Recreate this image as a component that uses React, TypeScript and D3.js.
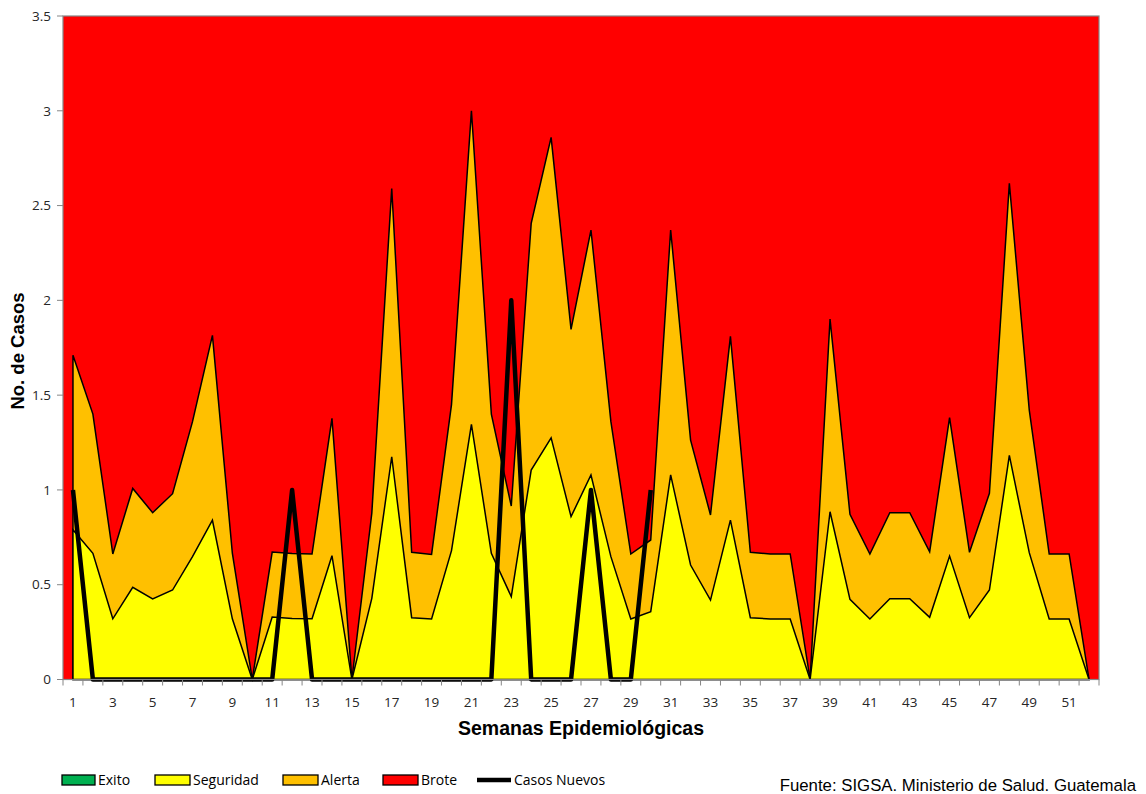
import React from "react";
import * as d3 from "d3";

const weeks: number[] = Array.from({ length: 52 }, (_, i) => i + 1);

const exito: number[] = [
  0, 0, 0, 0, 0, 0, 0, 0, 0, 0, 0, 0, 0, 0, 0, 0, 0, 0, 0, 0, 0, 0, 0, 0, 0, 0,
  0, 0, 0, 0, 0, 0, 0, 0, 0, 0, 0, 0, 0, 0, 0, 0, 0, 0, 0, 0, 0, 0, 0, 0, 0, 0,
];

const seguridad: number[] = [
  0.79, 0.666, 0.32, 0.486, 0.425, 0.472, 0.648, 0.84, 0.32, 0, 0.33, 0.322, 0.32,
  0.653, 0, 0.428, 1.175, 0.326, 0.319, 0.68, 1.346, 0.666, 0.437, 1.105, 1.275,
  0.859, 1.079, 0.648, 0.319, 0.358, 1.079, 0.604, 0.419, 0.841, 0.326, 0.319,
  0.319, 0, 0.885, 0.423, 0.319, 0.426, 0.426, 0.328, 0.651, 0.326, 0.472, 1.182,
  0.669, 0.319, 0.319, 0,
];

const alerta: number[] = [
  1.71, 1.4, 0.662, 1.008, 0.88, 0.98, 1.36, 1.815, 0.667, 0, 0.672, 0.665, 0.662,
  1.378, 0, 0.877, 2.59, 0.671, 0.66, 1.45, 3.0, 1.4, 0.915, 2.406, 2.86, 1.847,
  2.371, 1.36, 0.662, 0.736, 2.371, 1.263, 0.868, 1.81, 0.671, 0.662, 0.662, 0,
  1.901, 0.871, 0.662, 0.88, 0.88, 0.674, 1.381, 0.671, 0.982, 2.617, 1.421,
  0.662, 0.662, 0,
];

const casosNuevos: number[] = [
  1, 0, 0, 0, 0, 0, 0, 0, 0, 0, 0, 1, 0, 0, 0, 0, 0, 0, 0, 0, 0, 0, 2, 0, 0, 0,
  1, 0, 0, 1,
];

const yTicks: number[] = [0, 0.5, 1, 1.5, 2, 2.5, 3, 3.5];
const xTickLabels: number[] = [1, 3, 5, 7, 9, 11, 13, 15, 17, 19, 21, 23, 25, 27, 29, 31, 33, 35, 37, 39, 41, 43, 45, 47, 49, 51];

const legendItems = [
  { label: "Exito", color: "#00b050", type: "box", x: 62, w: 33 },
  { label: "Seguridad", color: "#ffff00", type: "box", x: 155, w: 35 },
  { label: "Alerta", color: "#ffc000", type: "box", x: 283, w: 35 },
  { label: "Brote", color: "#ff0000", type: "box", x: 383, w: 35 },
  { label: "Casos Nuevos", color: "#000", type: "line", x: 477, w: 34 },
];

export default function App() {
  const W = 1146;
  const H = 794;
  const left = 63;
  const right = 1099;
  const top = 16;
  const bottom = 679.5;

  const band = d3
    .scaleBand<number>()
    .domain(weeks)
    .range([left, right])
    .paddingInner(0)
    .paddingOuter(0);
  const cx = (w: number) => (band(w) as number) + band.bandwidth() / 2;
  const y = d3.scaleLinear().domain([0, 3.5]).range([bottom, top]);

  const area = d3
    .area<number>()
    .x((_, i) => cx(weeks[i]))
    .y0(y(0))
    .y1((d) => y(d));

  const line = d3
    .line<number>()
    .x((_, i) => cx(weeks[i]))
    .y((d) => y(d));

  const tickFont = "'Open Sans', 'Liberation Sans', sans-serif";
  const boldFont = "'Liberation Sans', Arial, sans-serif";

  return (
    <svg width={W} height={H} style={{ position: "absolute", left: 0, top: 0, background: "#fff" }}>
      <rect x={left} y={top} width={right - left} height={bottom - top} fill="#ff0000" />
      <path d={area(alerta) as string} fill="#ffc000" stroke="#000" strokeWidth={1.5} strokeLinejoin="miter" />
      <path d={area(seguridad) as string} fill="#ffff00" stroke="#000" strokeWidth={1.5} strokeLinejoin="miter" />
      <path d={area(exito) as string} fill="#00b050" stroke="none" />
      <path d={line(casosNuevos) as string} fill="none" stroke="#000" strokeWidth={4.5} strokeLinejoin="round" />
      <rect x={left} y={top} width={right - left} height={bottom - top} fill="none" stroke="#868686" strokeWidth={1.2} />

      {yTicks.map((t) => (
        <g key={"y" + t}>
          <line x1={left - 6} x2={left} y1={y(t)} y2={y(t)} stroke="#868686" strokeWidth={1} />
          <text x={left - 12} y={y(t)} dy="0.35em" textAnchor="end" fontSize={13.5} fontFamily={tickFont} fill="#262626">
            {t}
          </text>
        </g>
      ))}

      {weeks.concat([53]).map((w, i) => {
        const xx = left + i * band.bandwidth();
        return <line key={"xt" + w} x1={xx} x2={xx} y1={bottom} y2={bottom + 6} stroke="#868686" strokeWidth={1} />;
      })}
      {xTickLabels.map((w) => (
        <text key={"xl" + w} x={cx(w)} y={702} dy="0.35em" textAnchor="middle" fontSize={13.5} fontFamily={tickFont} fill="#262626">
          {w}
        </text>
      ))}

      <text
        transform={`translate(24, 351) rotate(-90)`}
        textAnchor="middle"
        fontSize={18.5}
        fontWeight="bold"
        fontFamily={boldFont}
        fill="#000"
      >
        No. de Casos
      </text>
      <text x={581} y={735} textAnchor="middle" fontSize={19.5} fontWeight="bold" fontFamily={boldFont} fill="#000">
        Semanas Epidemiológicas
      </text>

      {legendItems.map((it) => (
        <g key={it.label}>
          {it.type === "box" ? (
            <rect x={it.x} y={775} width={it.w} height={10} fill={it.color} stroke="#000" strokeWidth={1.3} />
          ) : (
            <line x1={it.x} x2={it.x + it.w} y1={780} y2={780} stroke="#000" strokeWidth={4.5} />
          )}
          <text x={it.x + it.w + 3} y={780} dy="0.35em" fontSize={14} fontFamily={tickFont} fill="#000">
            {it.label}
          </text>
        </g>
      ))}

      <text x={1136} y={785} dy="0.35em" textAnchor="end" fontSize={16.8} fontFamily={boldFont} fill="#000">
        Fuente: SIGSA. Ministerio de Salud. Guatemala
      </text>
    </svg>
  );
}
